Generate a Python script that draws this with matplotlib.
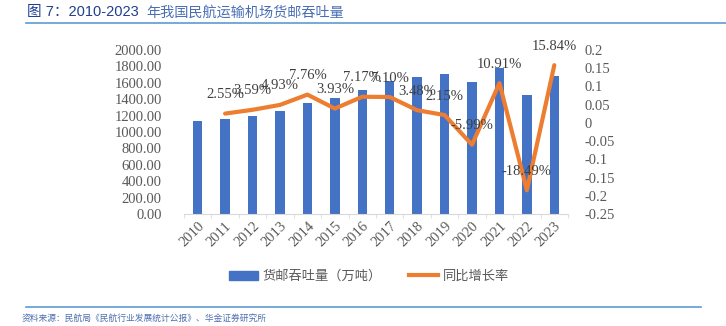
import numpy as np
import matplotlib.pyplot as plt
from matplotlib.lines import Line2D
from matplotlib.patches import Patch

plt.rcParams['font.family'] = ['Liberation Serif', 'Noto Sans CJK SC', 'DejaVu Sans']

# 货邮吞吐量（万吨）与同比增长率
years = ['2010', '2011', '2012', '2013', '2014', '2015', '2016',
         '2017', '2018', '2019', '2020', '2021', '2022', '2023']
volume = [1129.0, 1157.7, 1199.0, 1258.5, 1356.1, 1409.4, 1510.4,
          1617.7, 1674.0, 1710.0, 1607.5, 1782.8, 1453.1, 1683.3]
growth_years = years[1:]
growth = [0.0255, 0.0359, 0.0493, 0.0776, 0.0393, 0.0717, 0.0710,
          0.0348, 0.0215, -0.0599, 0.1091, -0.1849, 0.1584]

bar_color = '#4472C4'
line_color = '#ED7D31'
tick_color = '#595959'

fig = plt.figure(figsize=(7.26, 3.26), dpi=100)
ax = fig.add_axes([0.2534, 0.3436, 0.5290, 0.5030])

x = np.arange(len(years))
ax.bar(x, volume, width=0.34, color=bar_color, zorder=2)
ax.set_xlim(-0.5, len(years) - 0.5)
ax.set_ylim(0, 2000)
ax.set_yticks(np.arange(0, 2001, 200))
ax.set_yticklabels([f'{v:.2f}' for v in np.arange(0, 2001, 200)])
ax.set_xticks(x)
ax.set_xticklabels(years, rotation=45, ha='right', rotation_mode='anchor')
ax.tick_params(axis='y', length=0, labelsize=10.5, colors=tick_color, pad=16)
ax.tick_params(axis='x', length=0, labelsize=10.5, colors=tick_color, pad=4)
ax.set_xticks(np.arange(-0.5, len(years), 1), minor=True)
ax.tick_params(axis='x', which='minor', length=3, color='#D9D9D9')
for side in ['top', 'left', 'right']:
    ax.spines[side].set_visible(False)
ax.spines['bottom'].set_color('#D9D9D9')

ax2 = ax.twinx()
gx = np.arange(1, len(years))
ax2.plot(gx, growth, color=line_color, linewidth=3.0, solid_capstyle='round', zorder=3)
ax2.set_ylim(-0.25, 0.2)
ticks = np.arange(-0.25, 0.2001, 0.05)
ax2.set_yticks(ticks)
ax2.set_yticklabels([f'{t:g}' if abs(t) > 1e-9 else '0' for t in np.round(ticks, 2)])
ax2.tick_params(axis='y', length=0, labelsize=10.5, colors=tick_color, pad=12)
for side in ['top', 'left', 'right', 'bottom']:
    ax2.spines[side].set_visible(False)

for xi, g in zip(gx, growth):
    ax2.annotate(f'{g * 100:.2f}%', (xi, g), xytext=(0, 9), textcoords='offset points',
                 ha='center', va='bottom', fontsize=10.5, color='#404040', zorder=4)

handles = [Patch(color=bar_color), Line2D([0], [0], color=line_color, linewidth=3.0)]
fig.legend(handles, ['货邮吞吐量（万吨）', '同比增长率'], loc='center',
           bbox_to_anchor=(0.508, 0.152), ncol=2, frameon=False,
           handlelength=2.2, handleheight=0.7, handletextpad=0.4, columnspacing=2.0,
           labelcolor=tick_color, prop={'family': ['Noto Sans CJK SC'], 'size': 9.5})

# 标题与来源
fig.text(0.037, 0.962, '图 7：2010-2023', ha='left', va='center',
         fontsize=10.5, color='#1F3F8F', family=['Liberation Sans', 'Noto Sans CJK SC'])
fig.text(0.201, 0.962, '年我国民航运输机场货邮吞吐量', ha='left', va='center',
         fontsize=10.2, color='#4A6FB5', family=['Noto Sans CJK SC', 'DejaVu Sans'])
fig.add_artist(Line2D([0.036, 1.0], [0.930, 0.930], color='#5B9BD5', linewidth=1.2))
fig.add_artist(Line2D([0.036, 0.965], [0.058, 0.058], color='#5B9BD5', linewidth=1.2))
fig.text(0.030, 0.022, '资料来源：民航局《民航行业发展统计公报》、华金证券研究所', ha='left', va='center',
         fontsize=6.3, color='#4F6FB0', style='italic', family=['Noto Sans CJK SC', 'DejaVu Sans'])

fig.savefig('out.png', dpi=100)
